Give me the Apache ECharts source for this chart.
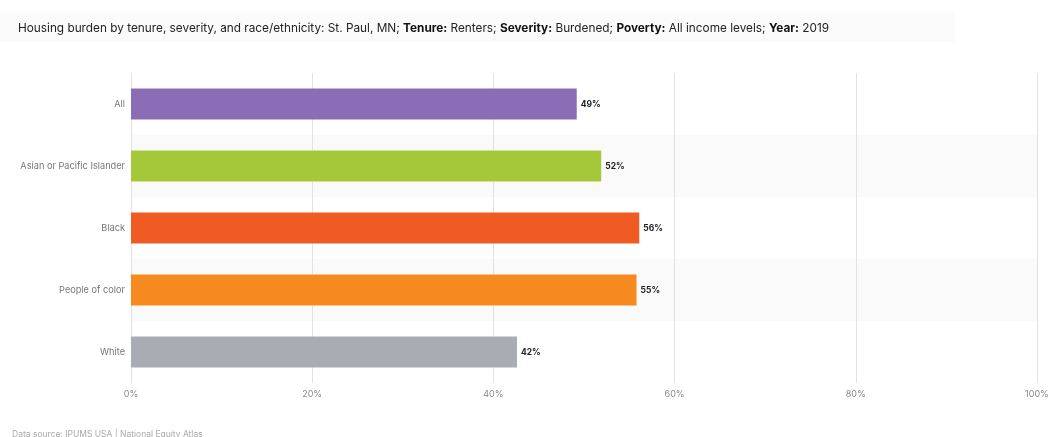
<!DOCTYPE html>
<html><head><meta charset="utf-8">
<script src="https://cdn.jsdelivr.net/npm/echarts@6/dist/echarts.min.js"></script>
<style>html,body{margin:0;padding:0;background:#fff}#c{width:1052px;height:437px}</style>
</head><body><div id="c"></div>
<script>
const categories = ["All", "Asian or Pacific Islander", "Black", "People of color", "White"];
const values = [49.2, 51.9, 56.1, 55.8, 42.6];
const valueLabels = ["49%", "52%", "56%", "55%", "42%"];
const colors = ["#8a6db6", "#a4c83a", "#f05a23", "#f68a1f", "#a9acb2"];
const xTicks = [0, 20, 40, 60, 80, 100];

const chart = echarts.init(document.getElementById('c'));
chart.setOption({
  animation: false,
  backgroundColor: '#fff',
  graphic: [{
    type: 'rect', left: 0, top: 12, shape: { width: 955, height: 30 }, style: { fill: '#fbfbfb' }, z: -1
  }],
  title: [{
    left: 13, top: 17,
    text: '{n|Housing burden by tenure, severity, and race/ethnicity: St. Paul, MN; }{b|Tenure:}{n| Renters; }{b|Severity:}{n| Burdened; }{b|Poverty:}{n| All income levels; }{b|Year:}{n| 2019}',
    textStyle: { rich: {
      n: { fontFamily: 'Inter', fontSize: 11.8, color: '#222', fontWeight: 'normal' },
      b: { fontFamily: 'Inter', fontSize: 11.8, color: '#111', fontWeight: 'bold' }
    } }
  }, {
    left: 7, top: 425,
    text: 'Data source: IPUMS USA | National Equity Atlas',
    textStyle: { fontFamily: 'Inter', fontSize: 8.5, color: '#aaa', fontWeight: 'normal' }
  }],
  grid: { left: 131, right: 15, top: 73, bottom: 54, containLabel: false },
  xAxis: {
    type: 'value', min: 0, max: 100, interval: 20,
    axisLine: { show: false }, axisTick: { show: false },
    splitLine: { show: true, lineStyle: { color: '#e2e2e2', width: 1 } },
    axisLabel: { formatter: v => xTicks.includes(v) ? v + '%' : '', color: '#888', fontFamily: 'Inter', fontSize: 9, margin: 7 }
  },
  yAxis: {
    type: 'category', inverse: true, data: categories,
    axisLine: { show: false }, axisTick: { show: false },
    splitArea: { show: true, areaStyle: { color: ['#ffffff', '#fafafa'] } },
    axisLabel: { color: '#777', fontFamily: 'Inter', fontSize: 9.2, margin: 6 }
  },
  series: [{
    type: 'bar', barWidth: 31,
    data: values.map((v, i) => ({ value: v, itemStyle: { color: colors[i] } })),
    label: { show: true, position: 'right', distance: 4, formatter: p => valueLabels[p.dataIndex], color: '#222', fontWeight: 'bold', fontFamily: 'Inter', fontSize: 8.5 }
  }]
});
</script></body></html>
